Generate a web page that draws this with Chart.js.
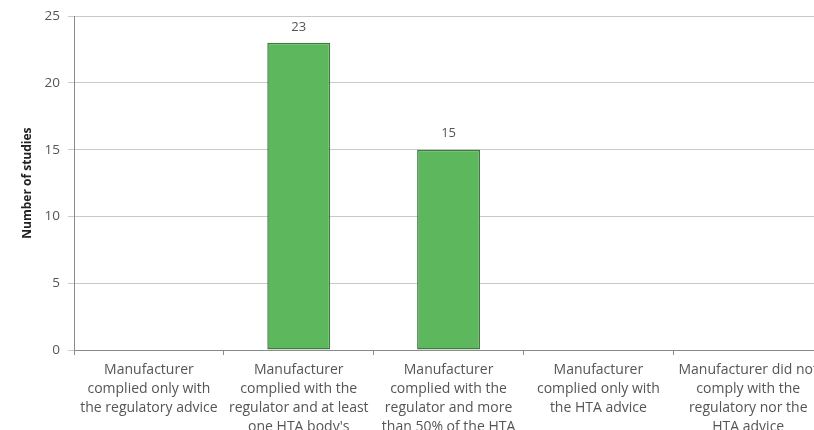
<!DOCTYPE html>
<html>
<head>
<meta charset="utf-8">
<script src="https://cdn.jsdelivr.net/npm/chart.js@4/dist/chart.umd.min.js"></script>
<style>
  html, body { margin: 0; padding: 0; overflow: hidden; background: #fff; }
  #wrap { position: absolute; left: 0; top: 0; }
</style>
</head>
<body>
<div id="wrap"><canvas id="c" width="824" height="443"></canvas></div>
<script>
const categories = [
  ["Manufacturer", "complied only with", "the regulatory advice"],
  ["Manufacturer", "complied with the", "regulator and at least", "one HTA body's"],
  ["Manufacturer", "complied with the", "regulator and more", "than 50% of the HTA"],
  ["Manufacturer", "complied only with", "the HTA advice"],
  ["Manufacturer did not", "comply with the", "regulatory nor the", "HTA advice"]
];
const studies = [0, 23, 15, 0, 0];
const yTicks = [0, 5, 10, 15, 20, 25];
const yTitle = "Number of studies";

const valueLabels = {
  id: 'valueLabels',
  afterDatasetsDraw(chart) {
    const ctx = chart.ctx;
    const meta = chart.getDatasetMeta(0);
    ctx.save();
    ctx.font = '13px "Open Sans"';
    ctx.fillStyle = '#555';
    ctx.textAlign = 'center';
    ctx.textBaseline = 'middle';
    meta.data.forEach((el, i) => {
      const v = chart.data.datasets[0].data[i];
      if (!v) return;
      const p = el.getProps(['x', 'y'], true);
      ctx.fillText(String(v), p.x, p.y - 16);
    });
    ctx.restore();
  }
};

new Chart(document.getElementById('c'), {
  type: 'bar',
  data: {
    labels: categories,
    datasets: [{
      data: studies,
      backgroundColor: '#5db85d',
      borderColor: '#3f7a3f',
      borderWidth: 1.5,
      borderSkipped: false,
      barPercentage: 0.42,
      categoryPercentage: 1.0
    }]
  },
  options: {
    responsive: false,
    animation: false,
    layout: { padding: { left: 17, top: 14, right: 0, bottom: 0 } },
    plugins: { legend: { display: false }, tooltip: { enabled: false } },
    scales: {
      x: {
        grid: { drawOnChartArea: false, drawTicks: true, tickLength: 5, color: '#8a8a8a' },
        border: { color: '#8a8a8a' },
        ticks: {
          padding: 6,
          color: '#555',
          maxRotation: 0,
          autoSkip: false,
          font: { family: '"Open Sans"', size: 14, lineHeight: '19px' }
        }
      },
      y: {
        min: 0, max: 25,
        afterBuildTicks(scale) { scale.ticks = yTicks.map(v => ({ value: v })); },
        afterFit(scale) { scale.width = 57; },
        grid: { color: '#c9c9c9', tickLength: 6 },
        border: { color: '#8a8a8a' },
        ticks: {
          padding: 8,
          color: '#555',
          font: { family: '"Open Sans"', size: 13.5 }
        },
        title: {
          display: true,
          text: yTitle,
          color: '#222',
          font: { family: '"Open Sans"', size: 12, weight: 'bold' },
          padding: { top: 3, bottom: 4 }
        }
      }
    }
  },
  plugins: [valueLabels]
});
</script>
</body>
</html>
